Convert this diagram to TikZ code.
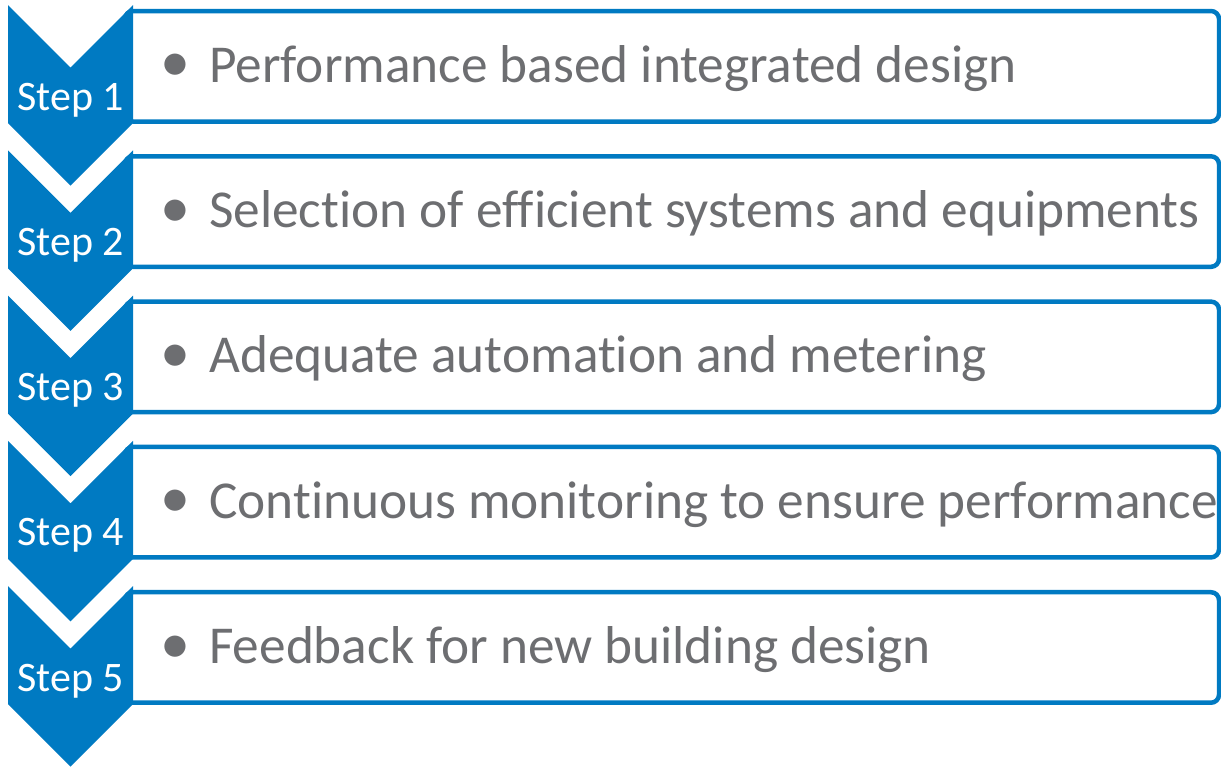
\documentclass[tikz,border=0pt]{standalone}
\usepackage{fontspec}
\setmainfont{Carlito}[Ligatures={NoCommon}]
\usetikzlibrary{positioning,calc}
\definecolor{stepblue}{RGB}{0,122,194}
\definecolor{textgray}{RGB}{109,110,113}

\begin{document}
\begin{tikzpicture}[
  x=1pt, y=-1pt,
  stepbox/.style={draw=stepblue, line width=4.5pt, fill=white, rounded corners=8pt,
    minimum width=1094pt, minimum height=110.5pt, inner sep=0pt, outer sep=0pt},
  steplabel/.style={text=white, font=\fontsize{42}{48}\selectfont, inner sep=0pt},
  item/.style={text=textgray, font=\fontsize{53.3}{60}\selectfont, inner sep=0pt},
  dot/.style={text=textgray, font=\fontsize{60}{60}\selectfont, inner sep=0pt}
]
  \fill[white] (0,0) rectangle (1221,766);
  \useasboundingbox (0,0) rectangle (1221,766);

  % one row per step: box behind, chevron on top
  \foreach \i/\txt in {1/Performance based integrated design,
                       2/Selection of efficient systems and equipments,
                       3/Adequate automation and metering,
                       4/Continuous monitoring to ensure performance,
                       5/Feedback for new building design} {
    \pgfmathsetmacro{\ytop}{5+145.3*(\i-1)}
    \node (box\i) [stepbox, anchor=north west] at (125,\ytop+6) {};
    \fill[stepblue] (8,\ytop) -- (70.5,\ytop+62.5) -- (133,\ytop)
      -- (133,\ytop+118) -- (70.5,\ytop+180.5) -- (8,\ytop+118) -- cycle;
    \node (step\i) [steplabel, anchor=base] at (70.5,\ytop+105) {Step \i};
    \node (item\i) [item, anchor=base west] at ($(box\i.west)+(84,16)$) {\txt};
    \node (dot\i) [dot] at ($(item\i.base west)+(-34,-14)$) {\textbullet};
  }
\end{tikzpicture}
\end{document}
